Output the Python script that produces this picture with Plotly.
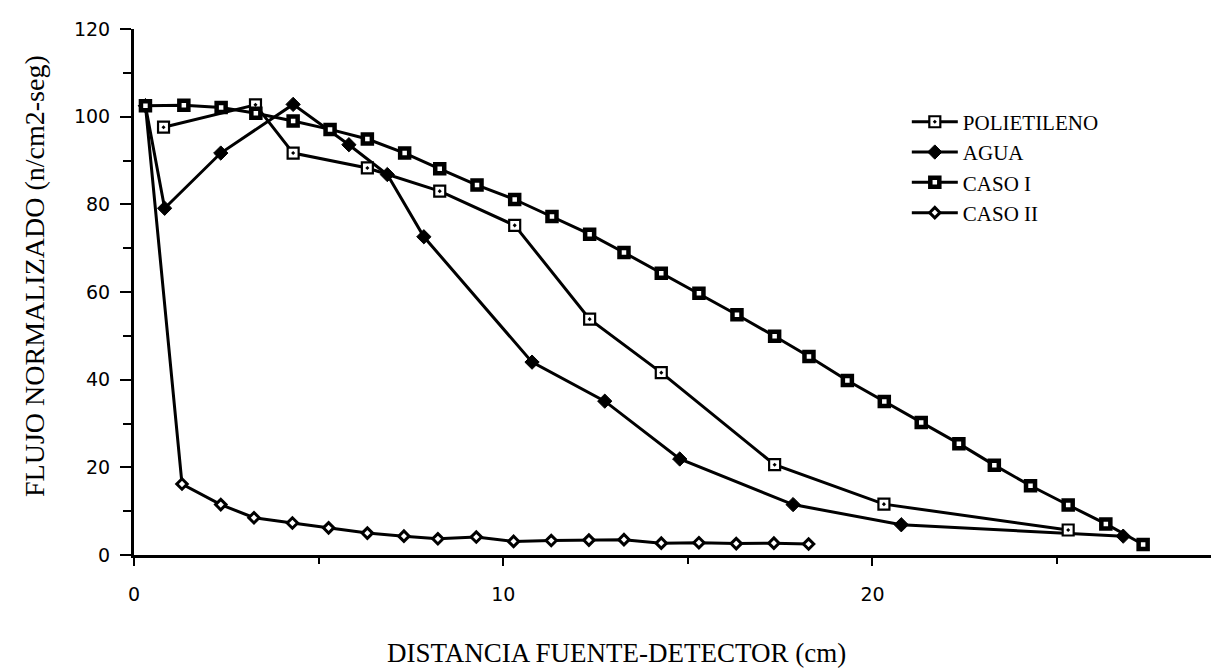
import plotly.graph_objects as go

# ---- data ----
poli_x = [0.80, 3.29, 4.31, 6.32, 8.28, 10.31, 12.34, 14.28, 17.35, 20.31, 25.30]
poli_y = [97.6, 102.7, 91.7, 88.3, 83.0, 75.2, 53.8, 41.6, 20.6, 11.6, 5.7]

agua_x = [0.31, 0.83, 2.35, 4.31, 5.82, 6.86, 7.85, 10.78, 12.75, 14.78, 17.85, 20.78, 26.79]
agua_y = [102.5, 79.1, 91.7, 102.8, 93.6, 86.8, 72.6, 44.0, 35.1, 21.9, 11.5, 6.9, 4.3]

caso1_x = [0.31, 1.35, 2.36, 3.30, 4.31, 5.31, 6.32, 7.33, 8.28, 9.29, 10.31, 11.32, 12.34, 13.27,
           14.28, 15.30, 16.33, 17.35, 18.28, 19.32, 20.32, 21.32, 22.34, 23.30, 24.28, 25.30,
           26.32, 27.33]
caso1_y = [102.5, 102.6, 102.1, 100.8, 99.0, 97.1, 94.9, 91.7, 88.1, 84.4, 81.1, 77.2, 73.2, 69.0,
           64.3, 59.7, 54.8, 49.9, 45.3, 39.8, 35.0, 30.2, 25.4, 20.5, 15.8, 11.4, 7.1, 2.4]

caso2_x = [0.31, 1.30, 2.35, 3.25, 4.29, 5.27, 6.32, 7.31, 8.23, 9.27, 10.28, 11.30, 12.32, 13.27,
           14.28, 15.30, 16.31, 17.33, 18.27]
caso2_y = [102.5, 16.2, 11.5, 8.5, 7.3, 6.2, 5.0, 4.3, 3.7, 4.1, 3.1, 3.3, 3.4, 3.5, 2.7, 2.8,
           2.6, 2.7, 2.5]

x_tickvals = [0, 10, 20]
y_tickvals = [0, 20, 40, 60, 80, 100, 120]

x_title = "DISTANCIA FUENTE-DETECTOR (cm)"
y_title = "FLUJO NORMALIZADO (n/cm2-seg)"

BLACK = "#000000"
LW = 3

fig = go.Figure()

fig.add_trace(go.Scatter(
    x=caso2_x, y=caso2_y, name="CASO II", mode="lines+markers", legendrank=4,
    line=dict(color=BLACK, width=LW),
    marker=dict(symbol="diamond", size=8, color="white", line=dict(color=BLACK, width=3)),
))
fig.add_trace(go.Scatter(
    x=agua_x, y=agua_y, name="AGUA", mode="lines+markers", legendrank=2,
    line=dict(color=BLACK, width=LW),
    marker=dict(symbol="diamond", size=11, color=BLACK, line=dict(color=BLACK, width=1)),
))
fig.add_trace(go.Scatter(
    x=poli_x, y=poli_y, name="POLIETILENO", mode="lines+markers", legendrank=1,
    line=dict(color=BLACK, width=LW),
    marker=dict(symbol="square-dot", size=11, color="white", line=dict(color=BLACK, width=2.2)),
))
fig.add_trace(go.Scatter(
    x=caso1_x, y=caso1_y, name="CASO I", mode="lines+markers", legendrank=3,
    line=dict(color=BLACK, width=LW),
    marker=dict(symbol="square", size=9, color="white", line=dict(color=BLACK, width=4.5)),
))

fig.update_layout(
    width=1219, height=669, autosize=False,
    margin=dict(l=126, r=3, t=21, b=122),
    paper_bgcolor="white", plot_bgcolor="white",
    showlegend=True,
    legend=dict(
        x=0.709, y=0.862, xanchor="left", yanchor="top",
        font=dict(family="Liberation Serif", size=21, color=BLACK),
        bgcolor="rgba(0,0,0,0)", itemwidth=46,
    ),
    annotations=[
        dict(text=x_title, xref="paper", yref="paper", x=(608 - 126) / 1090, y=-0.186,
             xanchor="center", yanchor="middle", showarrow=False,
             font=dict(family="Liberation Serif", size=27, color=BLACK)),
        dict(text=y_title, xref="paper", yref="paper", x=(26 - 126) / 1090, y=(547 - 268) / 526,
             xanchor="center", yanchor="middle", showarrow=False, textangle=-90,
             font=dict(family="Liberation Serif", size=28, color=BLACK)),
    ],
)

fig.update_xaxes(
    range=[0, 29.52], tickvals=x_tickvals, ticks="outside", ticklen=8, tickwidth=2,
    tickcolor=BLACK, showline=True, linewidth=3, linecolor=BLACK,
    showgrid=False, zeroline=False, ticklabelstandoff=12,
    tickfont=dict(family="DejaVu Sans", size=19, color=BLACK),
    minor=dict(dtick=5, tick0=0, ticks="outside", ticklen=6, tickwidth=2, tickcolor=BLACK, showgrid=False),
)
fig.update_yaxes(
    range=[0, 120], tickvals=y_tickvals, ticks="outside", ticklen=11, tickwidth=2,
    tickcolor=BLACK, showline=True, linewidth=3, linecolor=BLACK,
    showgrid=False, zeroline=False, ticklabelstandoff=6,
    tickfont=dict(family="DejaVu Sans", size=19, color=BLACK),
    minor=dict(dtick=10, tick0=0, ticks="outside", ticklen=8, tickwidth=2, tickcolor=BLACK, showgrid=False),
)

fig.write_html("out.html")
